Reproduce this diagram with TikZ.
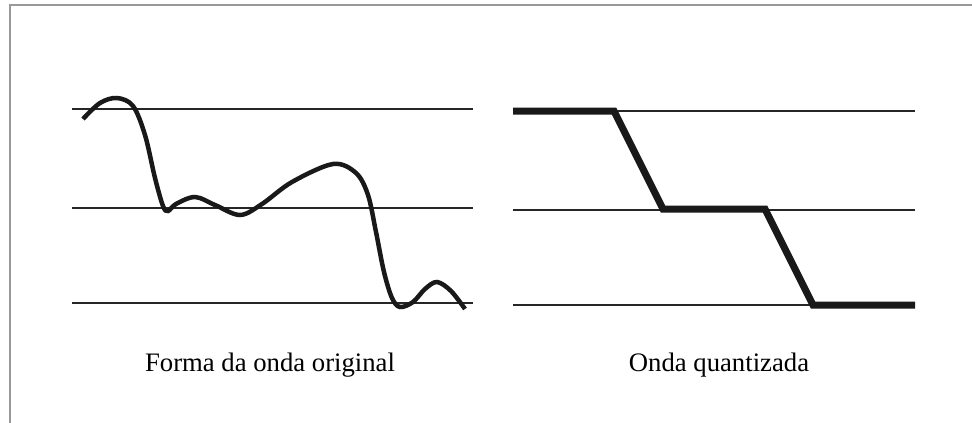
\documentclass[tikz,border=0pt]{standalone}
\usepackage{fontspec}
\setmainfont{Liberation Serif}
\begin{document}
\begin{tikzpicture}[x=1pt,y=-1pt,
  frame/.style={draw=black!40,line width=1.2pt},
  level/.style={draw=black!85,line width=2pt},
  wave/.style={draw=black!90,line width=4.5pt,line cap=butt},
  quant/.style={draw=black!90,line width=7pt,line join=miter},
  caption/.style={font=\fontsize{26.7}{30}\selectfont,anchor=base,inner sep=0pt}]
\useasboundingbox (0,0) rectangle (972,423);
% frame
\draw[frame] (10,423) -- (10,5) -- (972,5);
% left levels
\draw[level] (72,109) -- (473,109);
\draw[level] (72,208) -- (473,208);
\draw[level] (72,303) -- (473,303);
% right levels
\draw[level] (513,111) -- (915,111);
\draw[level] (513,210) -- (915,210);
\draw[level] (513,305) -- (915,305);
% original wave
\draw[wave] plot[smooth,tension=0.55] coordinates {
 (83,119) (100,103) (117,98) (133,106) (145,135) (155,178) (163,206) (168,211)
 (176,204) (195,197) (215,205) (240,215) (262,204) (292,182) (333,164)
 (356,173) (368,195) (376,232) (384,272) (392,298) (400,307) (413,302)
 (425,289) (437,282) (451,291) (465,309)};
% quantized wave
\draw[quant] (513,111) -- (614,111) -- (663,209) -- (765,209) -- (813,305) -- (915,305);
% captions
\node[caption] (c1) at (270,371.5) {Forma da onda original};
\node[caption] (c2) at (719,371.5) {Onda quantizada};
\end{tikzpicture}
\end{document}
